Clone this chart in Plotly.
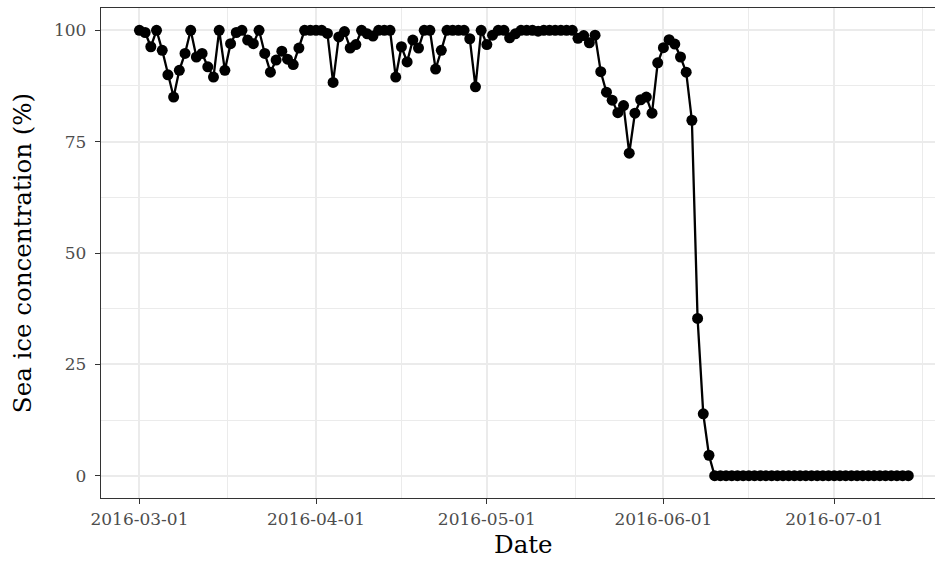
import pandas as pd
import plotly.graph_objects as go

start_date = "2016-03-01"
ice_conc = [
    100, 99.5, 96.3, 100, 95.5, 90, 85, 91, 94.8, 100,
    94, 94.8, 91.8, 89.5, 100, 91, 97, 99.5, 100, 97.8,
    97, 100, 94.8, 90.6, 93.3, 95.3, 93.5, 92.3, 96, 100,
    100, 100, 100, 99.3, 88.3, 98.5, 99.7, 96, 96.8, 100,
    99.2, 98.7, 100, 100, 100, 89.5, 96.3, 92.9, 97.8, 96,
    100, 100, 91.3, 95.5, 100, 100, 100, 100, 98.1, 87.3,
    100, 96.8, 98.9, 100, 100, 98.3, 99.2, 100, 100, 100,
    99.8, 100, 100, 100, 100, 100, 100, 98.2, 98.8, 97.2,
    98.9, 90.7, 86.1, 84.3, 81.5, 83.1, 72.4, 81.4, 84.4, 85,
    81.4, 92.7, 96.1, 97.9, 96.9, 94, 90.6, 79.8, 35.3, 13.9,
    4.6, 0, 0, 0, 0, 0, 0, 0, 0, 0,
    0, 0, 0, 0, 0, 0, 0, 0, 0, 0,
    0, 0, 0, 0, 0, 0, 0, 0, 0, 0,
    0, 0, 0, 0, 0, 0,
]
dates = pd.date_range(start_date, periods=len(ice_conc), freq="D")

x_tick_dates = ["2016-03-01", "2016-04-01", "2016-05-01", "2016-06-01", "2016-07-01"]
x_minor_dates = ["2016-03-16 12:00", "2016-04-16", "2016-05-16 12:00", "2016-06-16", "2016-07-16 12:00"]
y_ticks = [0, 25, 50, 75, 100]
y_minor = [12.5, 37.5, 62.5, 87.5]
x_title = "Date"
y_title = "Sea ice concentration (%)"

FONT = "DejaVu Serif"

fig = go.Figure()
fig.add_trace(go.Scatter(
    x=dates, y=ice_conc, mode="lines+markers",
    line=dict(color="black", width=2.3),
    marker=dict(color="black", size=11),
    showlegend=False,
))

fig.update_layout(
    width=935, height=561,
    margin=dict(l=101, r=0, t=8, b=63),
    paper_bgcolor="white", plot_bgcolor="white",
    font=dict(family=FONT, color="black"),
)
# x title centred on the full (partly cropped) panel, as in the reference
fig.add_annotation(
    text=x_title, xref="paper", yref="paper", x=0.506, y=0,
    xanchor="center", yanchor="top", yshift=-30, showarrow=False,
    font=dict(family=FONT, size=24.5, color="black"),
)
fig.update_xaxes(
    type="date",
    range=["2016-02-23 06:00", "2016-07-18 16:30"],
    tickmode="array", tickvals=x_tick_dates, ticktext=x_tick_dates,
    tickfont=dict(family=FONT, size=17, color="#4D4D4D"),
    ticks="outside", ticklen=5, tickwidth=1.1, tickcolor="#333333",
    showgrid=True, gridcolor="#EBEBEB", gridwidth=2,
    minor=dict(tickmode="array", tickvals=x_minor_dates, showgrid=True,
               gridcolor="#EBEBEB", gridwidth=1, ticks=""),
    showline=True, linecolor="#333333", linewidth=1.3, mirror=True,
    zeroline=False,
)
fig.update_yaxes(
    range=[-5, 105],
    tickmode="array", tickvals=y_ticks, ticktext=[str(v) for v in y_ticks],
    tickfont=dict(family=FONT, size=17, color="#4D4D4D"),
    ticks="outside", ticklen=5, tickwidth=1.1, tickcolor="#333333",
    ticklabelstandoff=5,
    showgrid=True, gridcolor="#EBEBEB", gridwidth=2,
    minor=dict(tickmode="array", tickvals=y_minor, showgrid=True,
               gridcolor="#EBEBEB", gridwidth=1, ticks=""),
    showline=True, linecolor="#333333", linewidth=1.3, mirror=False,
    zeroline=False,
    title=dict(text=y_title, font=dict(family=FONT, size=24.5, color="black"), standoff=15),
)

fig.write_html(
    "out.html",
    config={"displayModeBar": False},
    post_script="document.body.style.margin='0';"
                "document.body.style.overflow='hidden';"
                "document.documentElement.style.overflow='hidden';",
)
